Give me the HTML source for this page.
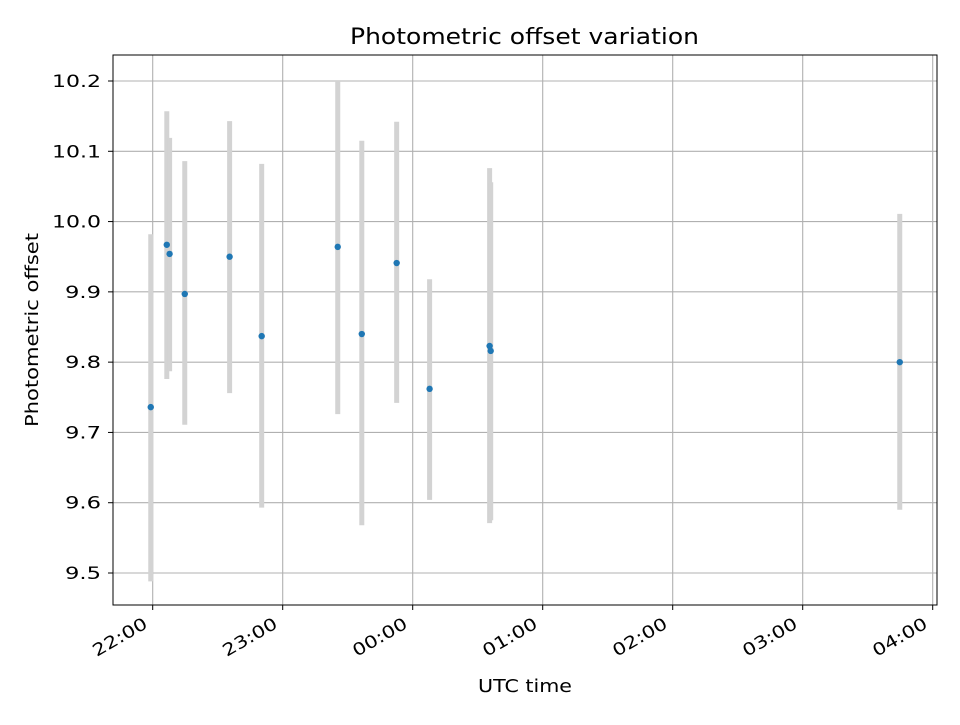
<!DOCTYPE html>
<html><head><meta charset="utf-8"><style>
html,body{margin:0;padding:0;background:#fff}
svg text{font-family:"DejaVu Sans","Liberation Sans",sans-serif;fill:#000}
</style></head><body>
<svg id="chart" width="960" height="720" viewBox="0 0 960 720">
<rect width="960" height="720" fill="#fff"/>
<g id="grid"></g>
<g id="errs"></g>
<g id="pts"></g>
<rect x="113" y="55" width="824" height="550" fill="none" stroke="#000" stroke-width="1"/>
<g id="ticks"></g>
<text x="350" y="44" font-size="22" textLength="349" lengthAdjust="spacingAndGlyphs">Photometric offset variation</text>
<text x="478" y="692" font-size="18" textLength="94" lengthAdjust="spacingAndGlyphs">UTC time</text>
<text x="38" y="427" font-size="18" textLength="194" lengthAdjust="spacingAndGlyphs" transform="rotate(-90 38 427)">Photometric offset</text>
</svg>
<script>
// minutes relative to 22:00 UTC
const times = [-0.9, 6.5, 7.8, 14.8, 35.5, 50.3, 85.4, 96.5, 112.6, 127.8, 155.5, 156.0, 344.8];
const offsets = [9.736, 9.967, 9.954, 9.897, 9.950, 9.837, 9.964, 9.840, 9.941, 9.762, 9.823, 9.816, 9.800];
const errUpper = [0.246, 0.190, 0.165, 0.189, 0.193, 0.245, 0.236, 0.275, 0.201, 0.156, 0.253, 0.240, 0.211];
const errLower = [0.248, 0.191, 0.167, 0.186, 0.194, 0.244, 0.238, 0.272, 0.199, 0.158, 0.252, 0.241, 0.210];
const yTicks = [9.5, 9.6, 9.7, 9.8, 9.9, 10.0, 10.1, 10.2];
const xTicks = [0, 60, 120, 180, 240, 300, 360];
const xTickLabels = ["22:00", "23:00", "00:00", "01:00", "02:00", "03:00", "04:00"];

const NS = "http://www.w3.org/2000/svg";
const X0 = 113, X1 = 937, Y0 = 55, Y1 = 605;
function xs(m){ return 152.7 + m * (130/60); }
function ys(v){ return 573 - (v - 9.5) * (492/0.7); }
function mk(tag, attrs, parent){
  const e = document.createElementNS(NS, tag);
  for (const k in attrs) e.setAttribute(k, attrs[k]);
  parent.appendChild(e); return e;
}
const grid = document.getElementById('grid'), ticks = document.getElementById('ticks');
const errs = document.getElementById('errs'), pts = document.getElementById('pts');

yTicks.forEach(v => {
  const y = ys(v);
  const g = mk('line', {x1:X0, x2:X1, y1:y, y2:y, stroke:'#b0b0b0', 'stroke-width':1.1}, grid);
  
  
  const t = mk('line', {x1:X0-5, x2:X0, y1:y, y2:y, stroke:'#000', 'stroke-width':1}, ticks);
  
  
  const s = v.toFixed(1);
  const w = s.length === 4 ? 49 : 36;
  const l = mk('text', {x:X0-12-w, y:y+6, 'font-size':17, textLength:w, lengthAdjust:'spacingAndGlyphs'}, ticks);
  l.textContent = s;
  
  
});
xTicks.forEach((m, i) => {
  const x = xs(m);
  const g = mk('line', {x1:x, x2:x, y1:Y0, y2:Y1, stroke:'#b0b0b0', 'stroke-width':1.1}, grid);
  
  
  const t = mk('line', {x1:x, x2:x, y1:Y1, y2:Y1+5, stroke:'#000', 'stroke-width':1}, ticks);
  
  
  const tx = x - 4, ty = Y1 + 22;
  const l = mk('text', {x:tx-60, y:ty, 'font-size':17, textLength:60, lengthAdjust:'spacingAndGlyphs', transform:`rotate(-30 ${tx} ${ty})`}, ticks);
  l.textContent = xTickLabels[i];
  
  
});
times.forEach((m, i) => {
  const x = xs(m);
  const b = mk('line', {x1:x, x2:x, y1:ys(offsets[i]+errUpper[i]), y2:ys(offsets[i]-errLower[i]), stroke:'#d3d3d3', 'stroke-width':5}, errs);
  
  
});
times.forEach((m, i) => {
  const c = mk('circle', {cx:xs(m), cy:ys(offsets[i]), r:3.2, fill:'#1f77b4'}, pts);
  
  
});
</script>
</body></html>
